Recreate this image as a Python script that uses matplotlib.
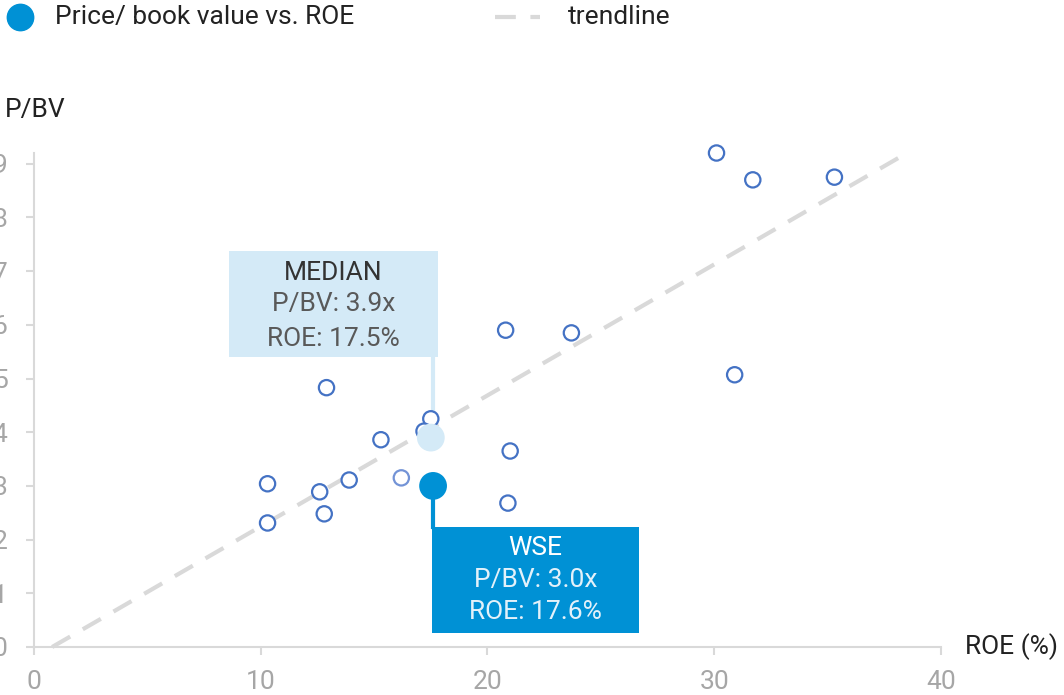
import matplotlib
matplotlib.use("Agg")
import matplotlib.pyplot as plt
from matplotlib.patches import Rectangle
from matplotlib.lines import Line2D

plt.rcParams['font.family'] = ['Roboto', 'DejaVu Sans']

# Data
roe = [30.1, 31.7, 35.3, 20.8, 23.7, 30.9, 12.9, 17.5, 17.2, 15.3,
       21.0, 10.3, 12.6, 13.9, 16.2, 20.9, 10.3, 12.8]
pbv = [9.2, 8.7, 8.75, 5.9, 5.85, 5.07, 4.83, 4.25, 4.02, 3.86,
       3.65, 3.04, 2.89, 3.11, 3.15, 2.68, 2.31, 2.48]
median_roe, median_pbv = 17.5, 3.9
wse_roe, wse_pbv = 17.6, 3.0
trend_x = [0.8, 38.5]
trend_y = [0.0, 9.2]
x_ticks = [0, 10, 20, 30, 40]
y_ticks = [0, 1, 2, 3, 4, 5, 6, 7, 8, 9]

BLUE = '#0091D5'
LIGHT = '#D4EAF7'
EDGE = '#4472C4'
GRID = '#D9D9D9'
TICK = '#A6A6A6'
FS = 19

fig = plt.figure(figsize=(10.64, 6.95), dpi=100)
ax = fig.add_axes([34/1064, 1-647/695, (941-34)/1064, (647-153)/695])
ax.set_xlim(0, 40)
ax.set_ylim(0, 9.2)

ax.plot(trend_x, trend_y, color=GRID, lw=3, dashes=(5, 3.5), zorder=1, clip_on=False)

edges = [EDGE] * len(roe)
edges[14] = '#7393D6'
ax.scatter(roe, pbv, s=11**2, facecolors='white', edgecolors=edges, linewidths=1.6,
           zorder=3, clip_on=False)

# median
ax.plot([median_roe + 0.1, median_roe + 0.1], [median_pbv + 0.1, 5.40], color=LIGHT, lw=3, zorder=2)
ax.scatter([median_roe], [median_pbv], s=20**2, color=LIGHT, zorder=4, edgecolors='none')
ax.add_patch(Rectangle((8.6, 5.40), 17.8 - 8.6, 7.38 - 5.40, facecolor=LIGHT,
                       edgecolor='none', zorder=2, clip_on=False))
cx = (8.6 + 17.8) / 2
ax.text(cx, 6.96, 'MEDIAN', ha='center', va='center', fontsize=FS, color='#333333', zorder=5)
ax.text(cx, 6.39, f'P/BV: {median_pbv:.1f}x', ha='center', va='center', fontsize=FS, color='#595959', zorder=5)
ax.text(cx, 5.74, f'ROE: {median_roe:.1f}%', ha='center', va='center', fontsize=FS, color='#595959', zorder=5)

# WSE
ax.plot([wse_roe, wse_roe], [wse_pbv, 2.24], color=BLUE, lw=3, zorder=2)
ax.scatter([wse_roe], [wse_pbv], s=20**2, color=BLUE, zorder=4, edgecolors='none')
ax.add_patch(Rectangle((17.55, 0.26), 26.68 - 17.55, 2.24 - 0.26, facecolor=BLUE,
                       edgecolor='none', zorder=2, clip_on=False))
wx = (17.55 + 26.68) / 2
ax.text(wx, 1.84, 'WSE', ha='center', va='center', fontsize=FS, color='white', zorder=5)
ax.text(wx, 1.25, f'P/BV: {wse_pbv:.1f}x', ha='center', va='center', fontsize=FS, color='#E3F1FA', zorder=5)
ax.text(wx, 0.65, f'ROE: {wse_roe:.1f}%', ha='center', va='center', fontsize=FS, color='#E3F1FA', zorder=5)

for s in ['top', 'right']:
    ax.spines[s].set_visible(False)
for s in ['left', 'bottom']:
    ax.spines[s].set_color(GRID)
    ax.spines[s].set_linewidth(1.5)

ax.set_xticks(x_ticks)
ax.set_yticks(y_ticks)
ax.tick_params(axis='both', colors=GRID, width=1.5, length=6, labelsize=FS, labelcolor=TICK)
ax.tick_params(axis='y', pad=13)
ax.tick_params(axis='x', pad=10.5)

fig.text(5/1064, 1-110/695, 'P/BV', fontsize=FS, color='#222222', va='center', ha='left')
fig.text(965/1064, 1-647/695, 'ROE (%)', fontsize=FS, color='#222222', va='center', ha='left')

# legend (manual placement)
fig.add_artist(Line2D([20/1064], [1-17/695], marker='o', linestyle='none', markersize=19,
                      color=BLUE, transform=fig.transFigure))
fig.text(55/1064, 1-17/695, 'Price/ book value vs. ROE', fontsize=FS, color='#222222',
         va='center', ha='left')
fig.add_artist(Line2D([495/1064, 540/1064], [1-17/695, 1-17/695], color=GRID, lw=3,
                      dashes=(5, 3.5), transform=fig.transFigure))
fig.text(568/1064, 1-17/695, 'trendline', fontsize=FS, color='#222222', va='center', ha='left')

fig.savefig('out.png', dpi=100)
